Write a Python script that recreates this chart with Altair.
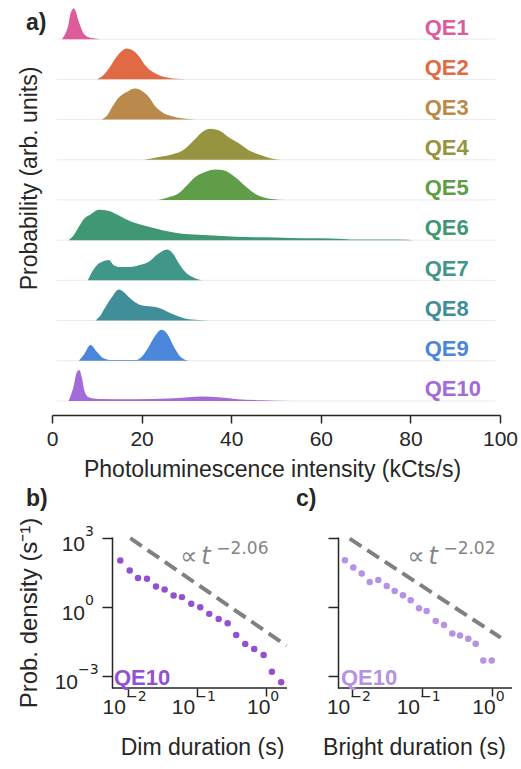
import math
import altair as alt
import pandas as pd

FONT = "Liberation Sans"
INK = "#262626"
GRAY = "#858585"

# ---------------- panel a: intensity histograms ----------------
QE_NAMES = ["QE1", "QE2", "QE3", "QE4", "QE5", "QE6", "QE7", "QE8", "QE9", "QE10"]
QE_COLORS = ["#dc5c9c", "#e06a44", "#b98a4b", "#969441", "#5f9d49",
             "#3f9774", "#409689", "#3f8e9a", "#4a86d9", "#a36ad9"]

QE1_X = [2.2, 3.0, 3.7, 4.1, 4.6, 4.8, 5.4, 5.8, 6.3, 6.7, 7.8, 9.3, 10.8]
QE1_P = [0, 0.18, 0.49, 0.81, 0.97, 1.0, 0.86, 0.65, 0.44, 0.28, 0.09, 0.03, 0]
QE2_X = [10.0, 11.2, 12.7, 14.1, 15.6, 16.7, 17.9, 19.4, 20.8, 22.3, 24.2, 26.0, 29.8]
QE2_P = [0, 0.10, 0.35, 0.67, 0.92, 1.0, 0.95, 0.75, 0.46, 0.26, 0.12, 0.05, 0]
QE3_X = [11.0, 12.3, 13.4, 14.9, 16.7, 18.6, 20.1, 21.6, 23.1, 24.6, 26.8, 29.0, 32.0]
QE3_P = [0, 0.13, 0.40, 0.71, 0.89, 1.0, 0.92, 0.73, 0.42, 0.24, 0.11, 0.04, 0]
QE4_X = [20.5, 23.8, 26.8, 29.4, 31.6, 33.5, 35.3, 37.2, 39.4, 41.7, 43.9, 46.9, 49.0, 51.0]
QE4_P = [0, 0.09, 0.17, 0.32, 0.62, 0.89, 1.0, 0.95, 0.73, 0.53, 0.31, 0.14, 0.04, 0]
QE5_X = [23.8, 26.0, 28.3, 30.1, 32.0, 34.2, 36.5, 38.3, 40.9, 43.5, 45.4, 47.3, 49.1, 52.0]
QE5_P = [0, 0.09, 0.22, 0.47, 0.74, 0.90, 0.98, 0.96, 0.73, 0.40, 0.19, 0.08, 0.03, 0]
QE6_X = [3.7, 4.8, 6.0, 7.1, 8.6, 10.4, 12.7, 14.5, 16.4, 18.6, 21.6, 24.6, 27.5, 30.5,
         35.0, 40.9, 46.9, 53.0, 60.0, 65.0, 66.5, 75.0, 79.5, 80.5]
QE6_P = [0, 0.15, 0.43, 0.68, 0.83, 0.98, 0.94, 0.83, 0.68, 0.55, 0.43, 0.32, 0.24, 0.19,
         0.16, 0.11, 0.09, 0.07, 0.06, 0.04, 0.02, 0.02, 0.015, 0]
QE7_X = [8.0, 8.9, 10.0, 11.2, 12.7, 13.8, 15.3, 17.1, 19.4, 21.6, 23.4, 25.7, 27.2, 28.3,
         29.8, 31.6, 33.5]
QE7_P = [0, 0.26, 0.49, 0.60, 0.66, 0.49, 0.43, 0.43, 0.49, 0.60, 0.83, 1.0, 0.83, 0.55,
         0.26, 0.09, 0]
QE8_X = [9.7, 10.8, 11.9, 13.4, 14.9, 16.0, 17.5, 19.4, 21.6, 23.8, 26.0, 28.3, 30.5, 35.0]
QE8_P = [0, 0.16, 0.43, 0.76, 1.0, 0.92, 0.71, 0.52, 0.46, 0.41, 0.27, 0.13, 0.04, 0]
QE9_X = [6.0, 7.1, 8.6, 10.0, 11.5, 13.4, 18.6, 20.1, 21.6, 23.1, 24.4, 25.7, 27.2, 28.6, 30.5]
QE9_P = [0, 0.19, 0.51, 0.29, 0.08, 0.02, 0.02, 0.14, 0.45, 0.82, 1.0, 0.87, 0.45, 0.14, 0]
QE10_X = [3.7, 4.8, 5.6, 6.1, 6.7, 7.3, 8.2, 10.4, 18.6, 26.0, 30.5, 33.5, 37.2, 40.9, 46.9, 53.5]
QE10_P = [0, 0.46, 0.95, 1.0, 0.73, 0.30, 0.12, 0.065, 0.054, 0.075, 0.12, 0.14, 0.12,
          0.065, 0.02, 0]

RIDGE_XS = [QE1_X, QE2_X, QE3_X, QE4_X, QE5_X, QE6_X, QE7_X, QE8_X, QE9_X, QE10_X]
RIDGE_PS = [QE1_P, QE2_P, QE3_P, QE4_P, QE5_P, QE6_P, QE7_P, QE8_P, QE9_P, QE10_P]
A_TICKS = [0, 20, 40, 60, 80, 100]

# ---------------- panels b, c: duration distributions ----------------
DIM_T = [0.00774, 0.01059, 0.01396, 0.01884, 0.02541, 0.03388, 0.04571, 0.06026, 0.08222,
         0.1109, 0.1496, 0.2046, 0.2761, 0.3673, 0.4955, 0.6683, 0.9142, 1.205, 1.641]
DIM_P = [108.4, 39.6, 18.45, 17.2, 7.94, 5.87, 3.21, 2.735, 1.393, 1.0, 0.509, 0.308, 0.2,
         0.0617, 0.02495, 0.0151, 0.00826, 0.00154, 0.000531]
BRIGHT_T = [0.00785, 0.01033, 0.01365, 0.01778, 0.0236, 0.0312, 0.0406, 0.0533, 0.0689,
            0.0906, 0.1167, 0.1574, 0.207, 0.2723, 0.3508, 0.4613, 0.5888, 0.7568, 1.0]
BRIGHT_P = [110.7, 53.1, 29.0, 12.5, 15.2, 8.34, 5.05, 3.27, 1.98, 0.887, 0.676, 0.247,
            0.165, 0.0718, 0.0587, 0.0421, 0.0255, 0.00475, 0.00475]
DIM_FIT_T = [0.01079, 1.945]
DIM_FIT_P = [1019, 0.0212]
BRIGHT_FIT_T = [0.00918, 1.346]
BRIGHT_FIT_P = [968, 0.0468]
DIM_EXP = "−2.06"
BRIGHT_EXP = "−2.02"
LOG_X_TICKS = [0.01, 0.1, 1]
LOG_X_EXPS = ["−2", "−1", "0"]
LOG_Y_TICKS = [1000, 1, 0.001]
LOG_Y_EXPS = ["3", "0", "−3"]

DIM_COLOR = "#9450d2"
BRIGHT_COLOR = "#b592e4"

# ---------------- panel a ----------------
AW, AH = 448, 410
rows = []
for i, (name, xs, ps) in enumerate(zip(QE_NAMES, RIDGE_XS, RIDGE_PS)):
    for x, p in zip(xs, ps):
        rows.append({"qe": name, "row": 9 - i, "x": x, "p": p})
ridge_df = pd.DataFrame(rows)
rows_df = pd.DataFrame({"qe": QE_NAMES, "row": list(range(9, -1, -1))})

XA = alt.Scale(domain=[0, 100], nice=False, zero=False)
YA = alt.Scale(domain=[-0.35, 9.85], nice=False, zero=False)
CA = alt.Scale(domain=QE_NAMES, range=QE_COLORS)
XAX = alt.Axis(values=A_TICKS, title="Photoluminescence intensity (kCts/s)",
               tickSize=8, labelFontSize=21, labelPadding=5, labelFlush=False,
               titleFontSize=23, titleY=43, titleX=220)
YAX = alt.Axis(title="Probability (arb. units)", domain=False, ticks=False, labels=False,
               titleFontSize=23, titleX=-10.4, titleY=173)

baselines = alt.Chart(rows_df).mark_rule(color="#ebebeb", strokeWidth=1).encode(
    x=alt.XDatum(1, scale=XA, axis=XAX, type="quantitative"), x2=alt.datum(99),
    y=alt.Y("row:Q", scale=YA, axis=YAX),
)
areas = alt.Chart(ridge_df).transform_calculate(
    top="datum.row + 0.77 * datum.p"
).mark_area(interpolate="monotone", opacity=1).encode(
    x=alt.X("x:Q", scale=XA, axis=XAX),
    y=alt.Y("top:Q", scale=YA, axis=YAX),
    y2="row:Q",
    color=alt.Color("qe:N", scale=CA, legend=None),
)
labels = alt.Chart(rows_df).transform_calculate(ly="datum.row + 0.29").mark_text(
    align="left", baseline="middle", fontSize=22, fontWeight="bold"
).encode(
    x=alt.XDatum(83.2, scale=XA, axis=XAX, type="quantitative"),
    y=alt.Y("ly:Q", scale=YA, axis=YAX),
    text="qe:N",
    color=alt.Color("qe:N", scale=CA, legend=None),
)
a_tag = alt.Chart(pd.DataFrame({"t": ["a)"]})).mark_text(
    align="left", baseline="alphabetic", fontSize=23, fontWeight="bold", color=INK
).encode(
    x=alt.XDatum(-5.8, scale=XA, axis=XAX, type="quantitative"),
    y=alt.YDatum(9.23, scale=YA, axis=YAX, type="quantitative"),
    text="t:N",
)

panel_a = alt.layer(baselines, areas, labels, a_tag).properties(width=AW, height=AH)


# ---------------- panels b, c ----------------
def log_panel(ts, ps, fit_t, fit_p, color, xtitle, ytitle, exp_text, tag,
              xvis, xlead, ydom, width, height, tag_x, ann_x, qe_x, xtitle_x,
              show_ylabels):
    """xvis: visible x range (axis line), xlead: extra empty pixels on the left."""
    ppd = width / math.log10(xvis[1] / xvis[0])
    xmin = xvis[0] / 10 ** (xlead / ppd)
    XS = alt.Scale(type="log", domain=[xmin, xvis[1]], nice=False)
    YS = alt.Scale(type="log", domain=ydom, nice=False)
    if ytitle:
        YAXIS = alt.Axis(values=LOG_Y_TICKS, labels=False, tickSize=10, offset=-xlead,
                         title=ytitle, titleFontSize=24, titleX=-70.4)
    else:
        YAXIS = alt.Axis(values=LOG_Y_TICKS, labels=False, tickSize=10, offset=-xlead,
                         title=None)
    XAXIS = alt.Axis(values=LOG_X_TICKS, labels=False, tickSize=8, title=xtitle,
                     titleFontSize=23, titleY=48, titleX=xtitle_x, domain=False)

    def xd(v):
        return alt.XDatum(v, scale=XS, axis=XAXIS, type="quantitative")

    def yd(v):
        return alt.YDatum(v, scale=YS, axis=YAXIS, type="quantitative")

    one = pd.DataFrame({"k": [0]})
    xline = alt.Chart(one).mark_rule(color=INK, strokeWidth=1.5).encode(
        x=xd(xvis[0]), x2=alt.datum(xvis[1]), y=yd(ydom[0]))
    fit = alt.Chart(pd.DataFrame({"t": fit_t, "p": fit_p})).mark_line(
        strokeDash=[14, 7], strokeWidth=4, color="#808080"
    ).encode(x=alt.X("t:Q", scale=XS, axis=XAXIS), y=alt.Y("p:Q", scale=YS, axis=YAXIS))
    pts = alt.Chart(pd.DataFrame({"t": ts, "p": ps})).mark_circle(
        size=42, opacity=1, color=color
    ).encode(x=alt.X("t:Q", scale=XS, axis=XAXIS), y=alt.Y("p:Q", scale=YS, axis=YAXIS))

    layers = [xline, fit, pts]
    # x tick labels 10^n
    xdf = pd.DataFrame({"v": LOG_X_TICKS, "e": LOG_X_EXPS,
                        "neg": [e.startswith("−") for e in LOG_X_EXPS]})
    for neg, dx in ((True, -2), (False, 4)):
        filt = "datum.neg" if neg else "!datum.neg"
        layers.append(alt.Chart(xdf).transform_filter(filt).mark_text(
            text="10", align="right", baseline="alphabetic", dx=dx, dy=26,
            fontSize=21, color=INK
        ).encode(x=alt.X("v:Q", scale=XS, axis=XAXIS), y=alt.value(height)))
        layers.append(alt.Chart(xdf).transform_filter(filt).mark_text(
            align="left", baseline="alphabetic", dx=dx, dy=13, fontSize=14,
            font="DejaVu Sans", color=INK
        ).encode(x=alt.X("v:Q", scale=XS, axis=XAXIS), y=alt.value(height), text="e:N"))
    if show_ylabels:
        ydf = pd.DataFrame({"v": LOG_Y_TICKS, "e": LOG_Y_EXPS,
                            "neg": [e.startswith("−") for e in LOG_Y_EXPS]})
        for neg, dx in ((False, -27), (True, -34)):
            filt = "datum.neg" if neg else "!datum.neg"
            layers.append(alt.Chart(ydf).transform_filter(filt).mark_text(
                text="10", align="right", baseline="alphabetic", dx=dx, dy=13,
                fontSize=21, color=INK
            ).encode(x=xd(xvis[0]), y=alt.Y("v:Q", scale=YS, axis=YAXIS)))
            layers.append(alt.Chart(ydf).transform_filter(filt).mark_text(
                align="left", baseline="alphabetic", dx=dx, dy=-2, fontSize=14,
                font="DejaVu Sans", color=INK
            ).encode(x=xd(xvis[0]), y=alt.Y("v:Q", scale=YS, axis=YAXIS), text="e:N"))
    ay = 10 ** 1.88
    layers.append(alt.Chart(one).mark_text(
        text="∝", align="left", baseline="alphabetic", fontSize=24,
        font="DejaVu Sans", color=GRAY, dx=-2
    ).encode(x=xd(ann_x), y=yd(ay)))
    layers.append(alt.Chart(one).mark_text(
        text="t", align="left", baseline="alphabetic", fontSize=24, fontStyle="italic",
        font="DejaVu Sans", color=GRAY, dx=19
    ).encode(x=xd(ann_x), y=yd(ay)))
    layers.append(alt.Chart(one).mark_text(
        text=exp_text, align="left", baseline="alphabetic", fontSize=17,
        font="DejaVu Sans", color=GRAY, dx=34, dy=-10
    ).encode(x=xd(ann_x), y=yd(ay)))
    layers.append(alt.Chart(one).mark_text(
        text="QE10", align="left", baseline="alphabetic", fontSize=22,
        fontWeight="bold", color=color
    ).encode(x=xd(qe_x), y=yd(10 ** -3.40)))
    layers.append(alt.Chart(one).mark_text(
        text=tag, align="left", baseline="alphabetic", fontSize=23,
        fontWeight="bold", color=INK
    ).encode(x=xd(tag_x), y=yd(10 ** 4.408)))
    return alt.layer(*layers).properties(width=width + xlead, height=height)


YDOM = [10 ** -3.524, 10 ** 3.057]
panel_b = log_panel(DIM_T, DIM_P, DIM_FIT_T, DIM_FIT_P, DIM_COLOR,
                    "Dim duration (s)", "Prob. density (s⁻¹)", DIM_EXP, "b)",
                    [10 ** -2.231, 10 ** 0.299], 60, YDOM, 175, 151,
                    10 ** -3.474, 10 ** -1.214, 10 ** -2.202, 150, True)
panel_c = log_panel(BRIGHT_T, BRIGHT_P, BRIGHT_FIT_T, BRIGHT_FIT_P, BRIGHT_COLOR,
                    "Bright duration (s)", None, BRIGHT_EXP, "c)",
                    [10 ** -2.205, 10 ** 0.291], 0, YDOM, 174, 151,
                    10 ** -2.808, 10 ** -1.181, 10 ** -2.162, 76, False)

chart = alt.vconcat(
    panel_a,
    alt.hconcat(panel_b, panel_c, spacing=0),
    spacing=7,
).properties(
    padding={"left": 17, "top": 5, "right": 0, "bottom": 0}
).configure(font=FONT).configure_view(stroke=None).configure_axis(
    grid=False, domainColor=INK, tickColor=INK, labelColor=INK, titleColor=INK,
    domainWidth=1.5, tickWidth=1.5, titleFontWeight="normal", labelFont=FONT, titleFont=FONT
)

chart.save("out.html", embed_options={"renderer": "svg", "actions": False})
